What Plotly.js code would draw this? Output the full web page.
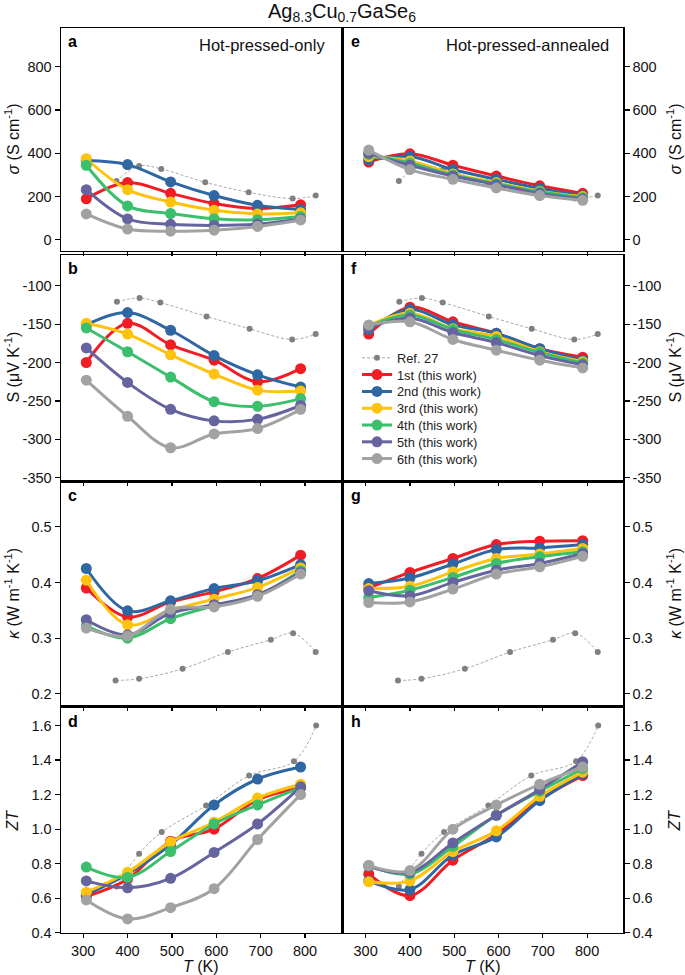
<!DOCTYPE html>
<html>
<head>
<meta charset="utf-8">
<script src="https://cdn.plot.ly/plotly-3.0.1.min.js"></script>
<style>html,body{margin:0;padding:0;background:#fff;}#chart{width:685px;height:975px;}</style>
</head>
<body>
<div id="chart"></div>
<script>
// ---------------- DATA ----------------
const SERIES_NAMES = ['1st (this work)', '2nd (this work)', '3rd (this work)', '4th (this work)', '5th (this work)', '6th (this work)'];
const REF_NAME = 'Ref. 27';
const T_WORK = [307, 400, 497, 595, 693, 790];

const T_REF_SIGMA = [375, 426, 476, 575, 673, 772, 824];
const REF_SIGMA = [272, 342, 328, 266, 220, 191, 205];
const T_REF_S = [376, 427, 474, 578, 675, 771, 824];
const REF_S = [-121, -116, -122, -140, -156, -170, -163];
const T_REF_KAPPA = [373, 426, 524, 626, 723, 773, 824];
const REF_KAPPA = [0.224, 0.227, 0.245, 0.275, 0.297, 0.309, 0.275];
const T_REF_ZT = [375, 426, 477, 577, 674, 775, 825];
const REF_ZT = [0.667, 0.857, 0.983, 1.137, 1.31, 1.393, 1.6];

// Hot-pressed-only
const SIGMA_HP = [
  [190, 265, 215, 168, 145, 162],
  [367, 348, 268, 205, 160, 140],
  [375, 232, 175, 137, 120, 125],
  [345, 157, 122, 98, 93, 108],
  [232, 97, 72, 67, 73, 97],
  [120, 50, 40, 45, 62, 92]
];
const S_HP = [
  [-200, -149, -177, -197, -225, -208],
  [-151, -135, -158, -191, -216, -232],
  [-149, -163, -190, -215, -236, -237],
  [-155, -186, -219, -251, -257, -247],
  [-181, -226, -261, -276, -274, -256],
  [-223, -270, -311, -293, -286, -261]
];
const KAPPA_HP = [
  [0.390, 0.338, 0.365, 0.383, 0.407, 0.449],
  [0.425, 0.349, 0.367, 0.389, 0.403, 0.432],
  [0.404, 0.324, 0.350, 0.370, 0.391, 0.426],
  [0.322, 0.300, 0.335, 0.358, 0.377, 0.421],
  [0.333, 0.306, 0.345, 0.360, 0.378, 0.418],
  [0.318, 0.304, 0.352, 0.356, 0.375, 0.415]
];
const ZT_HP = [
  [0.61, 0.71, 0.93, 1.00, 1.17, 1.24],
  [0.62, 0.74, 0.91, 1.14, 1.29, 1.36],
  [0.635, 0.75, 0.925, 1.04, 1.18, 1.26],
  [0.78, 0.72, 0.87, 1.03, 1.14, 1.24],
  [0.70, 0.66, 0.715, 0.865, 1.03, 1.245],
  [0.59, 0.48, 0.545, 0.655, 0.94, 1.20]
];
// Hot-pressed-annealed
const SIGMA_HPA = [
  [360, 398, 345, 295, 250, 215],
  [370, 385, 325, 280, 238, 205],
  [385, 365, 305, 265, 225, 200],
  [395, 355, 300, 260, 222, 195],
  [400, 345, 295, 255, 215, 190],
  [415, 325, 280, 240, 205, 183]
];
const S_HPA = [
  [-163, -128, -147, -162, -182, -193],
  [-157, -131, -151, -162, -182, -197],
  [-152, -136, -156, -166, -186, -199],
  [-153, -138, -157, -170, -187, -201],
  [-155, -142, -161, -174, -191, -203],
  [-151, -147, -170, -184, -197, -207]
];
const KAPPA_HPA = [
  [0.390, 0.418, 0.443, 0.468, 0.474, 0.475],
  [0.398, 0.408, 0.433, 0.459, 0.462, 0.468],
  [0.389, 0.393, 0.419, 0.443, 0.451, 0.461],
  [0.373, 0.386, 0.409, 0.434, 0.446, 0.455],
  [0.385, 0.376, 0.400, 0.422, 0.434, 0.452],
  [0.364, 0.365, 0.388, 0.415, 0.428, 0.447]
];
const ZT_HPA = [
  [0.74, 0.615, 0.82, 0.97, 1.17, 1.31],
  [0.70, 0.65, 0.85, 0.955, 1.165, 1.32],
  [0.695, 0.70, 0.87, 0.99, 1.19, 1.33],
  [0.79, 0.74, 0.90, 1.08, 1.22, 1.35],
  [0.785, 0.75, 0.92, 1.08, 1.23, 1.39],
  [0.79, 0.76, 1.00, 1.14, 1.26, 1.36]
];
const X_TICKS = [300, 400, 500, 600, 700, 800];
const SIGMA_TICKS = [0, 200, 400, 600, 800];
const S_TICKS = [-350, -300, -250, -200, -150, -100];
const KAPPA_TICKS = [0.2, 0.3, 0.4, 0.5];
const ZT_TICKS = [0.4, 0.6, 0.8, 1.0, 1.2, 1.4, 1.6];

// ---------------- STYLE ----------------
const COLORS = ['#F21D24', '#2F67A2', '#FFC20E', '#3BBF6C', '#65649F', '#A2A2A2'];
const FONT = 'Liberation Sans, Arial, sans-serif';
const W = 685, H = 975;
const px = v => v / W;
const py = v => 1 - v / H;

const XD = [[px(61), px(341)], [px(343.5), px(623)]];
const YD = [[py(250.7), py(28.3)], [py(480), py(255)], [py(705), py(482.7)], [py(932.7), py(708.3)]];

const panels = [
  {r: 0, c: 0, d: SIGMA_HP, rt: T_REF_SIGMA, ry: REF_SIGMA, L: 'a'},
  {r: 0, c: 1, d: SIGMA_HPA, rt: T_REF_SIGMA, ry: REF_SIGMA, L: 'e'},
  {r: 1, c: 0, d: S_HP, rt: T_REF_S, ry: REF_S, L: 'b'},
  {r: 1, c: 1, d: S_HPA, rt: T_REF_S, ry: REF_S, L: 'f'},
  {r: 2, c: 0, d: KAPPA_HP, rt: T_REF_KAPPA, ry: REF_KAPPA, L: 'c'},
  {r: 2, c: 1, d: KAPPA_HPA, rt: T_REF_KAPPA, ry: REF_KAPPA, L: 'g'},
  {r: 3, c: 0, d: ZT_HP, rt: T_REF_ZT, ry: REF_ZT, L: 'd'},
  {r: 3, c: 1, d: ZT_HPA, rt: T_REF_ZT, ry: REF_ZT, L: 'h'}
];

const yRanges = [[-50, 978], [-353, -60], [0.18, 0.579], [0.4, 1.70]];
const yTickVals = [SIGMA_TICKS, S_TICKS, KAPPA_TICKS, ZT_TICKS];
const yTickText = [
  SIGMA_TICKS.map(v => String(v)),
  S_TICKS.map(v => String(v)),
  KAPPA_TICKS.map(v => v.toFixed(1)),
  ZT_TICKS.map(v => v.toFixed(1))
];
const yTitles = [
  '<i>σ</i> (S cm<sup>-1</sup>)',
  'S (μV K<sup>-1</sup>)',
  '<i>κ</i> (W m<sup>-1</sup> K<sup>-1</sup>)',
  '<i>ZT</i>'
];

const traces = [];
const layout = {
  width: W, height: H,
  margin: {l: 0, r: 0, t: 0, b: 0},
  paper_bgcolor: '#fff', plot_bgcolor: '#fff',
  font: {family: FONT, size: 14.5, color: '#111'},
  showlegend: true,
  annotations: [],
  shapes: []
};

// one compact legend row per entry (reference spacing ~16.8 px)
const legendIds = ['legend', 'legend2', 'legend3', 'legend4', 'legend5', 'legend6', 'legend7'];
legendIds.forEach((id, k) => {
  layout[id] = {
    x: px(357), y: py(358 + 16.8 * k), xanchor: 'left', yanchor: 'middle',
    bgcolor: 'rgba(0,0,0,0)', borderwidth: 0,
    font: {family: FONT, size: 12.8, color: '#222'},
    itemwidth: 30, tracegroupgap: 0
  };
});

panels.forEach((p, i) => {
  const n = i + 1;
  const xa = 'x' + (n === 1 ? '' : n), ya = 'y' + (n === 1 ? '' : n);
  const xk = 'xaxis' + (n === 1 ? '' : n), yk = 'yaxis' + (n === 1 ? '' : n);
  const legendPanel = (p.L === 'f');
  traces.push({
    x: p.rt, y: p.ry, xaxis: xa, yaxis: ya, name: REF_NAME,
    type: 'scatter', mode: 'lines+markers',
    line: {color: '#A8A8A8', width: 1, dash: '3px,2px', shape: 'spline', smoothing: 1},
    marker: {color: '#808080', size: 6},
    showlegend: legendPanel, legend: legendIds[0]
  });
  p.d.forEach((ys, k) => {
    traces.push({
      x: T_WORK, y: ys, xaxis: xa, yaxis: ya, name: SERIES_NAMES[k],
      type: 'scatter', mode: 'lines+markers',
      line: {color: COLORS[k], width: 3, shape: 'spline', smoothing: 1},
      marker: {color: COLORS[k], size: 11},
      showlegend: legendPanel, legend: legendIds[k + 1]
    });
  });
  const bottom = p.r === 3;
  layout[xk] = {
    domain: XD[p.c], range: [250, 881], anchor: ya,
    tickmode: 'array', tickvals: X_TICKS, ticktext: X_TICKS.map(String),
    ticks: 'outside', ticklen: 4, tickwidth: 1.2, tickcolor: '#000',
    showticklabels: bottom, tickfont: {family: FONT, size: 14.5, color: '#111'},
    showline: true, mirror: true, linecolor: '#000', linewidth: 1.5,
    showgrid: false, zeroline: false, fixedrange: true
  };
  layout[yk] = {
    domain: YD[p.r], range: yRanges[p.r], anchor: xa,
    side: p.c === 0 ? 'left' : 'right',
    tickmode: 'array', tickvals: yTickVals[p.r], ticktext: yTickText[p.r],
    ticks: 'outside', ticklen: 5, tickwidth: 1.2, tickcolor: '#000',
    tickfont: {family: FONT, size: 14.5, color: '#111'},
    showline: true, mirror: true, linecolor: '#000', linewidth: 1.5,
    showgrid: false, zeroline: false, fixedrange: true
  };
  const top = [28.3, 255, 482.7, 708.3][p.r];
  const left = XD[p.c][0] * W;
  layout.annotations.push({
    text: '<b>' + p.L + '</b>', xref: 'paper', yref: 'paper',
    x: px(left + 5), y: py(top + 13), xanchor: 'left', yanchor: 'middle',
    showarrow: false, font: {family: FONT, size: 16, color: '#000'}
  });
  const midY = (YD[p.r][0] + YD[p.r][1]) / 2;
  layout.annotations.push({
    text: yTitles[p.r], xref: 'paper', yref: 'paper',
    x: p.c === 0 ? px(12) : px(674), y: midY, xanchor: 'center', yanchor: 'middle',
    textangle: -90, showarrow: false, font: {family: FONT, size: 16, color: '#111'}
  });
  if (bottom) {
    layout.annotations.push({
      text: '<i>T</i> (K)', xref: 'paper', yref: 'paper',
      x: (XD[p.c][0] + XD[p.c][1]) / 2, y: py(966), xanchor: 'center', yanchor: 'middle',
      showarrow: false, font: {family: FONT, size: 16, color: '#111'}
    });
  }
});

layout.annotations.push({
  text: 'Hot-pressed-only', xref: 'paper', yref: 'paper', x: px(327), y: py(45),
  xanchor: 'right', yanchor: 'middle', showarrow: false,
  font: {family: FONT, size: 16.5, color: '#111'}
});
layout.annotations.push({
  text: 'Hot-pressed-annealed', xref: 'paper', yref: 'paper', x: px(611), y: py(45),
  xanchor: 'right', yanchor: 'middle', showarrow: false,
  font: {family: FONT, size: 16.5, color: '#111'}
});
layout.annotations.push({
  text: 'Ag<sub>8.3</sub>Cu<sub>0.7</sub>GaSe<sub>6</sub>', xref: 'paper', yref: 'paper',
  x: px(342), y: py(13), xanchor: 'center', yanchor: 'middle', showarrow: false,
  font: {family: FONT, size: 20, color: '#111'}
});

Plotly.newPlot('chart', traces, layout, {displayModeBar: false, staticPlot: true});
</script>
</body>
</html>
